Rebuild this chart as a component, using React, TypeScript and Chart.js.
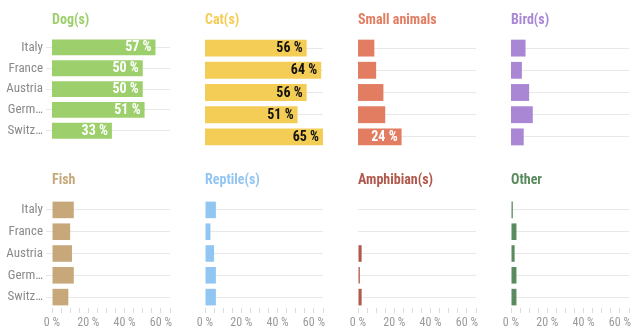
import React, { useEffect, useRef } from "react";
import { Chart, registerables } from "chart.js";

Chart.register(...registerables);

const countries = ["Italy", "France", "Austria", "Germ…", "Switz…"];
const dogs = [57, 50, 50, 51, 33];
const cats = [56, 64, 56, 51, 65];
const smallAnimals = [9, 10, 14, 15, 24];
const birds = [8, 6, 10, 12, 7];
const fish = [12, 10, 11, 12, 9];
const reptiles = [6, 3, 5, 6, 6];
const amphibians = [0, 0, 2, 1, 2];
const others = [1, 3, 2, 3, 3];
const xTickLabels = [0, 20, 40, 60];
const xMax = 65;
const labelThreshold = 20;

const FONT = "'Roboto Condensed', Roboto, sans-serif";

const panels = [
  { title: "Dog(s)", values: dogs, color: "#9dd06d", text: "#ffffff" },
  { title: "Cat(s)", values: cats, color: "#f4cd57", text: "#111111" },
  { title: "Small animals", values: smallAnimals, color: "#e27d62", text: "#ffffff" },
  { title: "Bird(s)", values: birds, color: "#a987d5", text: "#ffffff" },
  { title: "Fish", values: fish, color: "#c6a87b", text: "#ffffff" },
  { title: "Reptile(s)", values: reptiles, color: "#92c6f2", text: "#ffffff" },
  { title: "Amphibian(s)", values: amphibians, color: "#b0584b", text: "#ffffff" },
  { title: "Other", values: others, color: "#5a8b5e", text: "#ffffff" },
];

const PLOT_W = 118;
const COL_STEP = 153;
const FIRST_PLOT_LEFT = 52;
const PAD_R = 10;

type PanelProps = { idx: number };

function Panel({ idx }: PanelProps) {
  const ref = useRef<HTMLCanvasElement | null>(null);
  const p = panels[idx];
  const col = idx % 4;
  const row = Math.floor(idx / 4);
  const plotLeft = FIRST_PLOT_LEFT + COL_STEP * col;
  const leftW = col === 0 ? 52 : 20;
  const canvasLeft = plotLeft - leftW;
  const canvasTop = row === 0 ? 0 : 160;
  const canvasH = row === 0 ? 152 : 172;
  const canvasW = leftW + PLOT_W + PAD_R;
  const padTop = row === 0 ? 37 : 39;
  const padBottom = row === 0 ? 4 : 0;
  const xAxisH = 24;

  useEffect(() => {
    if (!ref.current) return;
    const titlePlugin = {
      id: "panelTitle",
      afterDraw(chart: any) {
        const ctx = chart.ctx;
        ctx.save();
        ctx.font = `bold 14px ${FONT}`;
        ctx.fillStyle = p.color;
        ctx.textAlign = "left";
        ctx.textBaseline = "middle";
        ctx.fillText(p.title, chart.chartArea.left, 20);
        ctx.restore();
      },
    };
    const valuePlugin = {
      id: "valueLabels",
      afterDatasetsDraw(chart: any) {
        const ctx = chart.ctx;
        const meta = chart.getDatasetMeta(0);
        ctx.save();
        ctx.font = `bold 14px ${FONT}`;
        ctx.fillStyle = p.text;
        ctx.textAlign = "right";
        ctx.textBaseline = "middle";
        meta.data.forEach((bar: any, i: number) => {
          const v = p.values[i];
          if (v >= labelThreshold) {
            ctx.fillText(`${v} %`, bar.x - 4, bar.y + 0.5);
          }
        });
        ctx.restore();
      },
    };
    const chart = new Chart(ref.current, {
      type: "bar",
      data: {
        labels: countries,
        datasets: [
          {
            data: p.values,
            backgroundColor: p.color,
            borderWidth: 0,
            barPercentage: 0.76,
            categoryPercentage: 1,
          },
        ],
      },
      options: {
        indexAxis: "y",
        animation: false,
        responsive: false,
        maintainAspectRatio: false,
        layout: { padding: { top: padTop, bottom: padBottom, right: PAD_R, left: 0 } },
        plugins: { legend: { display: false }, tooltip: { enabled: false }, title: { display: false } },
        scales: {
          x: {
            display: row === 1,
            min: 0,
            max: xMax,
            border: { display: false },
            grid: {
              display: true,
              drawOnChartArea: false,
              drawTicks: true,
              tickLength: 5,
              color: "#dcdcdc",
            },
            ticks: {
              stepSize: 5,
              autoSkip: false,
              maxRotation: 0,
              minRotation: 0,
              padding: 3,
              color: "#9a9a9a",
              font: { family: FONT, size: 12 },
              callback: (v: any) => (xTickLabels.includes(Number(v)) ? `${v} %` : ""),
            },
            afterFit: (s: any) => {
              s.height = row === 1 ? xAxisH : 0;
            },
          },
          y: {
            display: true,
            border: { display: false },
            grid: {
              offset: false,
              color: "#e8e8e8",
              drawTicks: col === 0,
              tickLength: 6,
            },
            ticks: {
              display: col === 0,
              padding: 3,
              color: "#8a8a8a",
              font: { family: FONT, size: 13 },
            },
            afterFit: (s: any) => {
              s.width = leftW;
            },
          },
        },
      },
      plugins: [titlePlugin, valuePlugin],
    } as any);
    return () => chart.destroy();
  }, []);

  return (
    <canvas
      ref={ref}
      width={canvasW}
      height={canvasH}
      style={{ position: "absolute", left: canvasLeft, top: canvasTop, width: canvasW, height: canvasH }}
    />
  );
}

export default function App() {
  return (
    <div style={{ position: "absolute", left: 0, top: 0, width: 638, height: 332, background: "#ffffff", overflow: "hidden" }}>
      {panels.map((_, i) => (
        <Panel key={i} idx={i} />
      ))}
    </div>
  );
}
